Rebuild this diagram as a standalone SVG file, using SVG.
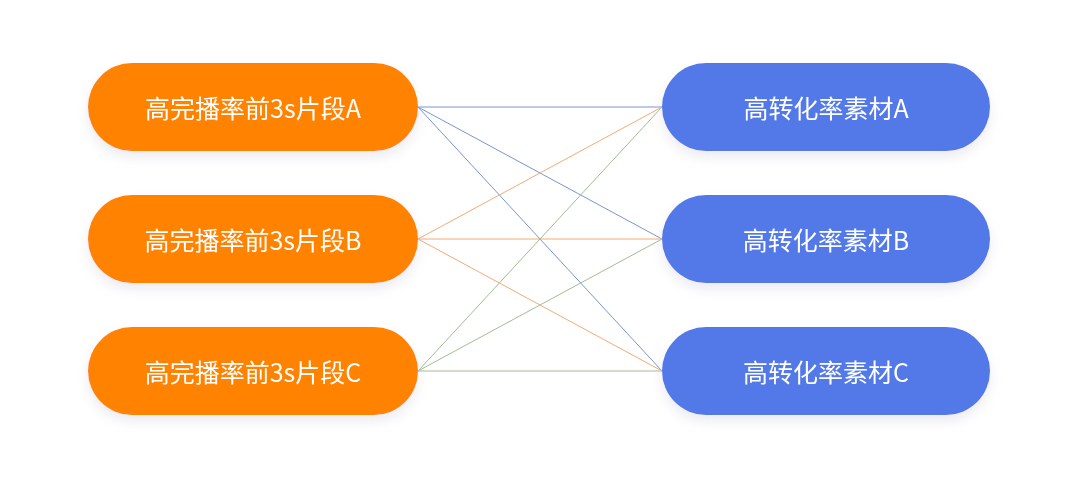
<svg xmlns="http://www.w3.org/2000/svg" width="1080" height="479" viewBox="0 0 1080 479">
<defs>
<filter id="sh" x="-20%" y="-30%" width="140%" height="170%"><feDropShadow dx="0" dy="6" stdDeviation="6" flood-color="#c8c8d8" flood-opacity="0.35"/></filter>
<style>
.o{fill:#ff8200}.b{fill:#5279e9}
text{font-family:"Noto Sans CJK SC","Noto Sans",sans-serif;font-size:25px;fill:#fff;text-anchor:middle;dominant-baseline:central}
.l{fill:none;stroke-width:1}
</style>
</defs>
<rect width="1080" height="479" fill="#fff"/>
<g id="connectors">
<path class="l" stroke="#7a95cf" d="M418 107H662M418 107L662 239M418 107L662 371"/>
<path class="l" stroke="#f4aa74" d="M418 239L662 107M418 239H662M418 239L662 371"/>
<path class="l" stroke="#a2bd92" d="M418 371L662 107M418 371L662 239M418 371H662"/>
</g>
<g id="left-a" filter="url(#sh)"><rect class="o" x="88" y="63" width="330" height="88" rx="44"/><text x="253" y="107">高完播率前3s片段A</text></g>
<g id="left-b" filter="url(#sh)"><rect class="o" x="88" y="195" width="330" height="88" rx="44"/><text x="253" y="239">高完播率前3s片段B</text></g>
<g id="left-c" filter="url(#sh)"><rect class="o" x="88" y="327" width="330" height="88" rx="44"/><text x="253" y="371">高完播率前3s片段C</text></g>
<g id="right-a" filter="url(#sh)"><rect class="b" x="662" y="63" width="328" height="88" rx="44"/><text x="826" y="107">高转化率素材A</text></g>
<g id="right-b" filter="url(#sh)"><rect class="b" x="662" y="195" width="328" height="88" rx="44"/><text x="826" y="239">高转化率素材B</text></g>
<g id="right-c" filter="url(#sh)"><rect class="b" x="662" y="327" width="328" height="88" rx="44"/><text x="826" y="371">高转化率素材C</text></g>
</svg>
